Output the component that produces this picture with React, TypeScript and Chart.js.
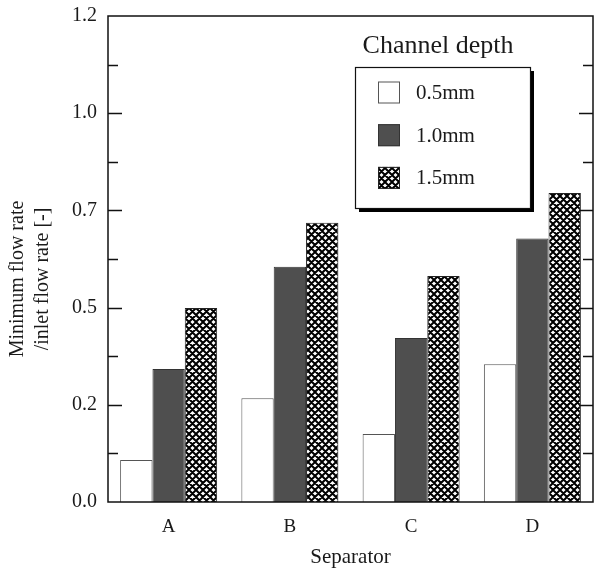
import React, { useEffect, useRef } from "react";
import { Chart, registerables } from "chart.js";

Chart.register(...registerables);

const categories = ["A", "B", "C", "D"];
const seriesLabels = ["0.5mm", "1.0mm", "1.5mm"];
const depth05 = [0.108, 0.267, 0.175, 0.354];
const depth10 = [0.342, 0.605, 0.422, 0.678];
const depth15 = [0.499, 0.718, 0.581, 0.795];
const yMin = 0;
const yMax = 1.25;
const yStep = 0.125;
const yLabelStep = 0.25;
const xTitle = "Separator";
const yTitleLines = ["Minimum flow rate", "/inlet flow rate [-]"];
const legendTitle = "Channel depth";

const FONT = "'Liberation Serif', 'Times New Roman', serif";

function makeHatch(): CanvasPattern | string {
  const c = document.createElement("canvas");
  const s = 14;
  c.width = s;
  c.height = s;
  const g = c.getContext("2d");
  if (!g) return "#888";
  g.fillStyle = "#ffffff";
  g.fillRect(0, 0, s, s);
  g.strokeStyle = "#000000";
  g.lineWidth = 2;
  const p = 7;
  g.beginPath();
  for (let k = -3; k <= 3; k++) {
    g.moveTo(k * p, 0);
    g.lineTo(k * p + s, s);
    g.moveTo(k * p + s, 0);
    g.lineTo(k * p, s);
  }
  g.stroke();
  const pat = g.createPattern(c, "repeat");
  return pat || "#888";
}

const isMajor = (v: number) => Math.abs(v / yLabelStep - Math.round(v / yLabelStep)) < 1e-6;

const decorPlugin = {
  id: "decor",
  afterDatasetsDraw(chart: any) {
    const ctx = chart.ctx;
    const { left, right, top, bottom } = chart.chartArea;
    const yScale = chart.scales.y;
    ctx.save();
    // frame
    ctx.strokeStyle = "#111";
    ctx.lineWidth = 1.5;
    ctx.strokeRect(left, top, right - left, bottom - top);
    // inward ticks on left and right
    ctx.lineWidth = 1.5;
    ctx.beginPath();
    yScale.ticks.forEach((t: any) => {
      const v = t.value;
      if (v <= yMin + 1e-9 || v >= yMax - 1e-9) return;
      const y = Math.round(yScale.getPixelForValue(v)) + 0.5;
      const len = isMajor(v) ? 14 : 10;
      ctx.moveTo(left, y);
      ctx.lineTo(left + len, y);
      ctx.moveTo(right, y);
      ctx.lineTo(right - len, y);
    });
    ctx.stroke();

    // axis titles
    ctx.fillStyle = "#1a1a1a";
    ctx.font = `21px ${FONT}`;
    ctx.textAlign = "center";
    ctx.textBaseline = "middle";
    ctx.fillText(xTitle, (left + right) / 2, 557);

    ctx.font = `20px ${FONT}`;
    ctx.save();
    ctx.translate(18, 279);
    ctx.rotate(-Math.PI / 2);
    ctx.fillText(yTitleLines[0], 0, 0);
    ctx.restore();
    ctx.save();
    ctx.translate(43, 279);
    ctx.rotate(-Math.PI / 2);
    ctx.fillText(yTitleLines[1], 0, 0);
    ctx.restore();

    // legend
    const bx = 355, by = 67, bw = 175, bh = 141;
    ctx.fillStyle = "#000";
    ctx.fillRect(bx + 4, by + 4, bw, bh);
    ctx.fillStyle = "#fff";
    ctx.fillRect(bx, by, bw, bh);
    ctx.strokeStyle = "#111";
    ctx.lineWidth = 1.2;
    ctx.strokeRect(bx + 0.5, by + 0.5, bw, bh);

    ctx.fillStyle = "#1a1a1a";
    ctx.font = `26px ${FONT}`;
    ctx.textAlign = "center";
    ctx.fillText(legendTitle, 438, 46);

    chart.data.datasets.forEach((ds: any, i: number) => {
      const cy = 92.5 + i * 42.7;
      const sx = 378, sw = 22, sh = 22;
      ctx.fillStyle = ds.backgroundColor;
      ctx.fillRect(sx, cy - sh / 2, sw, sh);
      ctx.strokeStyle = ds.borderColor;
      ctx.lineWidth = 1;
      ctx.strokeRect(sx + 0.5, cy - sh / 2 + 0.5, sw - 1, sh - 1);
      ctx.fillStyle = "#1a1a1a";
      ctx.font = `21px ${FONT}`;
      ctx.textAlign = "left";
      ctx.fillText(ds.label, 416, cy + 1);
    });
    ctx.restore();
  },
};

export default function App() {
  const ref = useRef<HTMLCanvasElement | null>(null);
  useEffect(() => {
    if (!ref.current) return;
    const hatch = makeHatch();
    const chart = new Chart(ref.current, {
      type: "bar",
      data: {
        labels: categories,
        datasets: [
          { label: seriesLabels[0], data: depth05, backgroundColor: "#ffffff", borderColor: "#555555", borderWidth: 1 },
          { label: seriesLabels[1], data: depth10, backgroundColor: "#4f4f4f", borderColor: "#333333", borderWidth: 1 },
          { label: seriesLabels[2], data: depth15, backgroundColor: hatch as any, borderColor: "#222222", borderWidth: 1 },
        ],
      },
      options: {
        responsive: false,
        animation: false,
        devicePixelRatio: 1,
        layout: { padding: { left: 0, right: 1, top: 16, bottom: 0 } },
        datasets: { bar: { categoryPercentage: 0.8, barPercentage: 1.0 } },
        plugins: { legend: { display: false }, tooltip: { enabled: false } },
        scales: {
          x: {
            grid: { display: false, drawTicks: false },
            border: { display: false },
            ticks: { font: { family: FONT, size: 19 }, color: "#1a1a1a", padding: 14 },
            afterFit: (s: any) => { s.height = 67; s.paddingLeft = 0; s.paddingRight = 0; },
          },
          y: {
            min: yMin,
            max: yMax,
            grid: { display: false, drawTicks: false },
            border: { display: false },
            ticks: {
              stepSize: yStep,
              autoSkip: false,
              font: { family: FONT, size: 20 },
              color: "#1a1a1a",
              padding: 11,
              callback: (v: any) => {
                const n = Number(v);
                if (!isMajor(n)) return "";
                return (Math.floor(n * 10 + 1e-6) / 10).toFixed(1);
              },
            },
            afterFit: (s: any) => { s.width = 108; s.paddingTop = 0; s.paddingBottom = 0; },
          },
        },
      },
      plugins: [decorPlugin],
    });
    return () => chart.destroy();
  }, []);
  return (
    <div style={{ position: "absolute", left: 0, top: 0, width: 594, height: 569, background: "#fff" }}>
      <canvas ref={ref} width={594} height={569} style={{ display: "block", width: 594, height: 569 }} />
    </div>
  );
}
